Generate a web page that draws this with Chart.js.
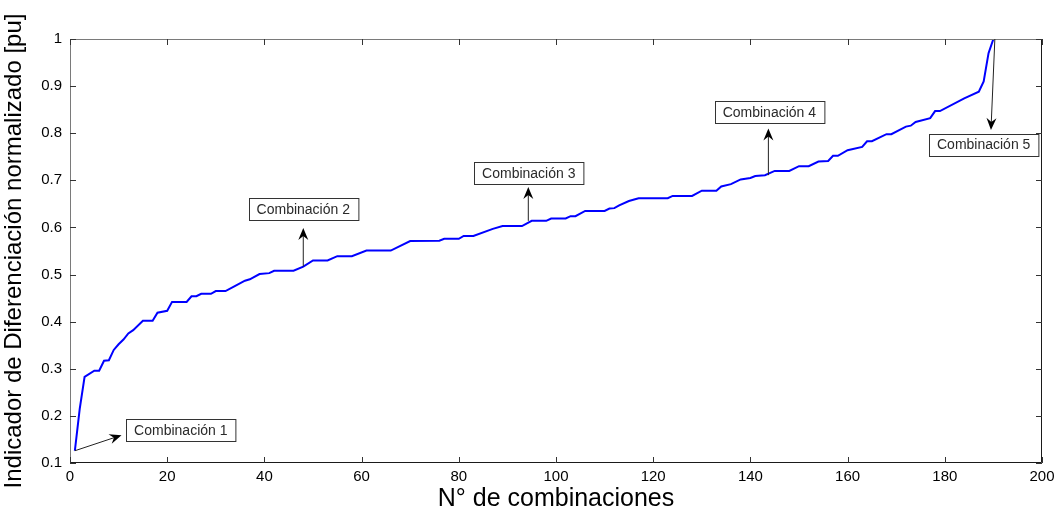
<!DOCTYPE html>
<html>
<head>
<meta charset="utf-8">
<script src="https://cdn.jsdelivr.net/npm/chart.js@4.4.1/dist/chart.umd.min.js"></script>
<style>
  html, body { margin: 0; padding: 0; background: #fff; }
  #wrap { width: 1060px; height: 514px; }
</style>
</head>
<body>
<div id="wrap"><canvas id="curva"></canvas></div>
<script>
// combinaciones ordenadas (vértices de la curva)
const combinaciones = [1, 2, 3, 5, 6, 7, 8, 9, 10, 11, 12, 13, 15, 17, 18, 20, 21, 24, 25, 26,
  27, 29, 30, 32, 34, 36, 37, 39, 41, 42, 46, 48, 50, 53, 55, 58, 61, 66, 70, 76,
  77, 80, 81, 83, 87, 89, 93, 95, 98, 99, 102, 103, 104, 106, 110, 111, 112, 113, 115, 117,
  123, 124, 128, 130, 133, 134, 136, 138, 140, 141, 143, 145, 148, 150, 152, 154, 156, 157, 158, 160,
  163, 164, 165, 168, 169, 172, 173, 174, 177, 178, 179, 184, 187, 188, 189, 190];
const indicador = [0.126, 0.215, 0.283, 0.296, 0.296, 0.317, 0.318, 0.340, 0.352, 0.362, 0.375, 0.382, 0.402, 0.402, 0.419, 0.423, 0.442, 0.442, 0.454, 0.454,
  0.459, 0.459, 0.465, 0.465, 0.476, 0.487, 0.490, 0.501, 0.503, 0.508, 0.508, 0.517, 0.530, 0.530, 0.539, 0.539, 0.551, 0.551, 0.571, 0.572,
  0.576, 0.576, 0.582, 0.582, 0.597, 0.603, 0.603, 0.614, 0.614, 0.619, 0.619, 0.624, 0.624, 0.635, 0.635, 0.640, 0.641, 0.647, 0.656, 0.662,
  0.662, 0.667, 0.667, 0.678, 0.678, 0.687, 0.692, 0.702, 0.705, 0.709, 0.711, 0.720, 0.720, 0.730, 0.730, 0.740, 0.741, 0.752, 0.752, 0.764,
  0.771, 0.783, 0.783, 0.798, 0.798, 0.814, 0.816, 0.824, 0.832, 0.847, 0.847, 0.874, 0.888, 0.910, 0.970, 1.000];

const ticksX = [0, 20, 40, 60, 80, 100, 120, 140, 160, 180, 200];
const ticksY = [0.1, 0.2, 0.3, 0.4, 0.5, 0.6, 0.7, 0.8, 0.9, 1];

// anotaciones: texto, flecha (desde -> hasta) y centro del recuadro, en unidades de datos
const etiquetas = ['Combinación 1', 'Combinación 2', 'Combinación 3', 'Combinación 4', 'Combinación 5'];
const flechaDesde = [[1, 0.126], [48, 0.517], [94.3, 0.614], [143.7, 0.711], [190.3, 1.0]];
const flechaHasta = [[10.6, 0.159], [48, 0.599], [94.3, 0.686], [143.7, 0.81], [189.5, 0.807]];
const recuadro = [[22.8, 0.170], [48, 0.639], [94.4, 0.716], [143.9, 0.844], [188, 0.776]];

const puntos = combinaciones.map((x, i) => ({ x: x, y: indicador[i] }));

function flecha(ctx, x1, y1, x2, y2) {
  const ang = Math.atan2(y2 - y1, x2 - x1);
  const L = 12, W = 5;
  ctx.beginPath();
  ctx.moveTo(x1, y1);
  ctx.lineTo(x2 - Math.cos(ang) * 6, y2 - Math.sin(ang) * 6);
  ctx.stroke();
  ctx.save();
  ctx.translate(x2, y2);
  ctx.rotate(ang);
  ctx.beginPath();
  ctx.moveTo(0, 0);
  ctx.lineTo(-L, -W);
  ctx.lineTo(-L + 4, 0);
  ctx.lineTo(-L, W);
  ctx.closePath();
  ctx.fill();
  ctx.restore();
}

const marcoMatlab = {
  id: 'marcoMatlab',
  afterDatasetsDraw(chart) {
    const { ctx, chartArea: a, scales } = chart;
    const sx = scales.x, sy = scales.y;
    ctx.save();
    // marco
    ctx.lineWidth = 1;
    ctx.strokeStyle = '#7a7a7a';
    ctx.beginPath();
    ctx.moveTo(a.left + 0.5, a.bottom);
    ctx.lineTo(a.left + 0.5, a.top + 0.5);
    ctx.lineTo(a.right, a.top + 0.5);
    ctx.stroke();
    ctx.strokeStyle = '#1a1a1a';
    ctx.beginPath();
    ctx.moveTo(a.right - 0.5, a.top);
    ctx.lineTo(a.right - 0.5, a.bottom - 0.5);
    ctx.lineTo(a.left, a.bottom - 0.5);
    ctx.stroke();
    // marcas hacia dentro en los cuatro lados
    const t = 6;
    ctx.strokeStyle = '#333';
    ctx.beginPath();
    ticksX.forEach(v => {
      const px = Math.round(sx.getPixelForValue(v)) + 0.5;
      ctx.moveTo(px, a.bottom); ctx.lineTo(px, a.bottom - t);
      ctx.moveTo(px, a.top); ctx.lineTo(px, a.top + t);
    });
    ticksY.forEach(v => {
      const py = Math.round(sy.getPixelForValue(v)) + 0.5;
      ctx.moveTo(a.left, py); ctx.lineTo(a.left + t, py);
      ctx.moveTo(a.right, py); ctx.lineTo(a.right - t, py);
    });
    ctx.stroke();

    // flechas y recuadros
    ctx.font = '14px "Liberation Sans", Arial, sans-serif';
    ctx.textAlign = 'center';
    ctx.textBaseline = 'middle';
    etiquetas.forEach((txt, i) => {
      const x1 = sx.getPixelForValue(flechaDesde[i][0]), y1 = sy.getPixelForValue(flechaDesde[i][1]);
      const x2 = sx.getPixelForValue(flechaHasta[i][0]), y2 = sy.getPixelForValue(flechaHasta[i][1]);
      ctx.strokeStyle = '#222';
      ctx.fillStyle = '#000';
      ctx.lineWidth = 1;
      flecha(ctx, x1, y1, x2, y2);
      const cx = sx.getPixelForValue(recuadro[i][0]), cy = sy.getPixelForValue(recuadro[i][1]);
      const w = ctx.measureText(txt).width + 16, h = 22;
      const bx = Math.round(cx - w / 2) + 0.5, by = Math.round(cy - h / 2) + 0.5;
      ctx.fillStyle = '#fff';
      ctx.fillRect(bx, by, w, h);
      ctx.strokeStyle = '#333';
      ctx.strokeRect(bx, by, w, h);
      ctx.fillStyle = '#2a2a2a';
      ctx.fillText(txt, cx, cy + 1);
    });
    ctx.restore();
  }
};

new Chart(document.getElementById('curva'), {
  type: 'line',
  data: {
    datasets: [{
      data: puntos,
      borderColor: '#0000ff',
      borderWidth: 2,
      pointRadius: 0,
      fill: false,
      tension: 0
    }]
  },
  options: {
    responsive: true,
    maintainAspectRatio: false,
    animation: false,
    layout: { padding: { top: 39, right: 18, left: 0, bottom: 0 } },
    plugins: { legend: { display: false }, tooltip: { enabled: false } },
    scales: {
      x: {
        type: 'linear',
        min: 0,
        max: 200,
        afterBuildTicks: s => { s.ticks = ticksX.map(v => ({ value: v })); },
        afterFit: s => { s.height = 51; },
        grid: { display: false, drawTicks: false },
        border: { display: false },
        ticks: {
          padding: 5,
          color: '#000',
          maxRotation: 0,
          font: { family: '"Liberation Sans", Arial', size: 15 }
        },
        title: {
          display: true,
          text: 'N° de combinaciones',
          color: '#000',
          padding: { top: 0, bottom: 0 },
          font: { family: '"Liberation Sans", Arial', size: 25 }
        }
      },
      y: {
        min: 0.1,
        max: 1,
        afterBuildTicks: s => { s.ticks = ticksY.map(v => ({ value: v })); },
        afterFit: s => { s.width = 70; },
        grid: { display: false, drawTicks: false },
        border: { display: false },
        ticks: {
          padding: 8,
          color: '#000',
          callback: v => String(Math.round(v * 10) / 10),
          font: { family: '"Liberation Sans", Arial', size: 15 }
        },
        title: {
          display: true,
          text: 'Indicador de Diferenciación normalizado [pu]',
          color: '#000',
          padding: { top: 0, bottom: 0 },
          font: { family: '"Liberation Sans", Arial', size: 24 }
        }
      }
    }
  },
  plugins: [marcoMatlab]
});
</script>
</body>
</html>
